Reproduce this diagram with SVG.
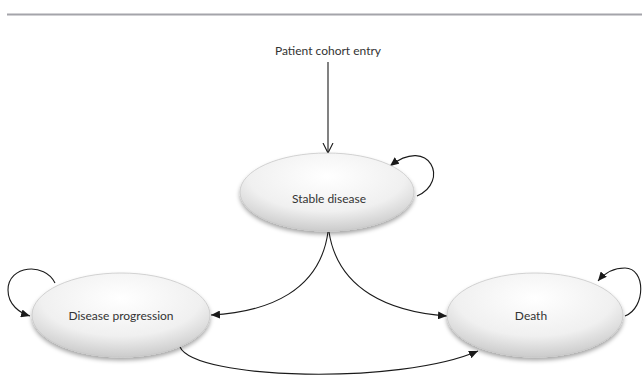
<svg xmlns="http://www.w3.org/2000/svg" width="642" height="377" viewBox="0 0 642 377">
<style>
.node ellipse{fill:url(#g);stroke:#c8c8c8;stroke-width:0.8;filter:url(#sh)}
.lbl{font-family:Lato,"Open Sans","DejaVu Sans",sans-serif;font-size:12px;fill:#333;text-anchor:middle}
.c{fill:none;stroke:#1a1a1a;stroke-width:1.1}
</style>
<defs>
<radialGradient id="g" cx="0.5" cy="0.3" r="0.75">
<stop offset="0" stop-color="#ffffff"/>
<stop offset="0.6" stop-color="#f0f0f0"/>
<stop offset="1" stop-color="#c4c4c4"/>
</radialGradient>
<filter id="sh" x="-20%" y="-20%" width="140%" height="150%">
<feDropShadow dx="0" dy="3" stdDeviation="2" flood-color="#000" flood-opacity="0.35"/>
</filter>
<marker id="a" markerUnits="userSpaceOnUse" markerWidth="10" markerHeight="8" refX="9" refY="4" orient="auto">
<path d="M0,0 L9,4 L0,8 Z" fill="#1a1a1a"/>
</marker>
<marker id="o" markerUnits="userSpaceOnUse" markerWidth="12" markerHeight="12" refX="10" refY="6" orient="auto">
<path d="M0,1 L10,6 L0,11" fill="none" stroke="#1a1a1a" stroke-width="1.1"/>
</marker>
</defs>
<line x1="7" y1="14.5" x2="642" y2="14.5" stroke="#a4a4aa" stroke-width="2"/>
<g id="connectors">
<path class="c" d="M328,62 L328,153" marker-end="url(#o)"/>
<path class="c" d="M417,196 C450,182 430,135 390,166" marker-end="url(#a)"/>
<path class="c" d="M55,283 C45,262 8,265 8,290 C8,305 20,313 30,316" marker-end="url(#a)"/>
<path class="c" d="M625,316 C646,308 646,268 625,268 C612,268 603,275 598,281" marker-end="url(#a)"/>
<path class="c" d="M328,232 C320,290 270,312 211,315" marker-end="url(#a)"/>
<path class="c" d="M329,232 C338,290 390,312 447,316" marker-end="url(#a)"/>
<path class="c" d="M180,347 C195,380 400,385 478,351" marker-end="url(#a)"/>
</g>
<g id="entry"><text class="lbl" x="328" y="55">Patient cohort entry</text></g>
<g id="stable" class="node"><ellipse cx="327" cy="192" rx="87" ry="39"/><text class="lbl" x="329" y="203">Stable disease</text></g>
<g id="progression" class="node"><ellipse cx="121" cy="315" rx="89" ry="42"/><text class="lbl" x="121" y="320">Disease progression</text></g>
<g id="death" class="node"><ellipse cx="535" cy="315" rx="88" ry="42"/><text class="lbl" x="531" y="320">Death</text></g>
</svg>
